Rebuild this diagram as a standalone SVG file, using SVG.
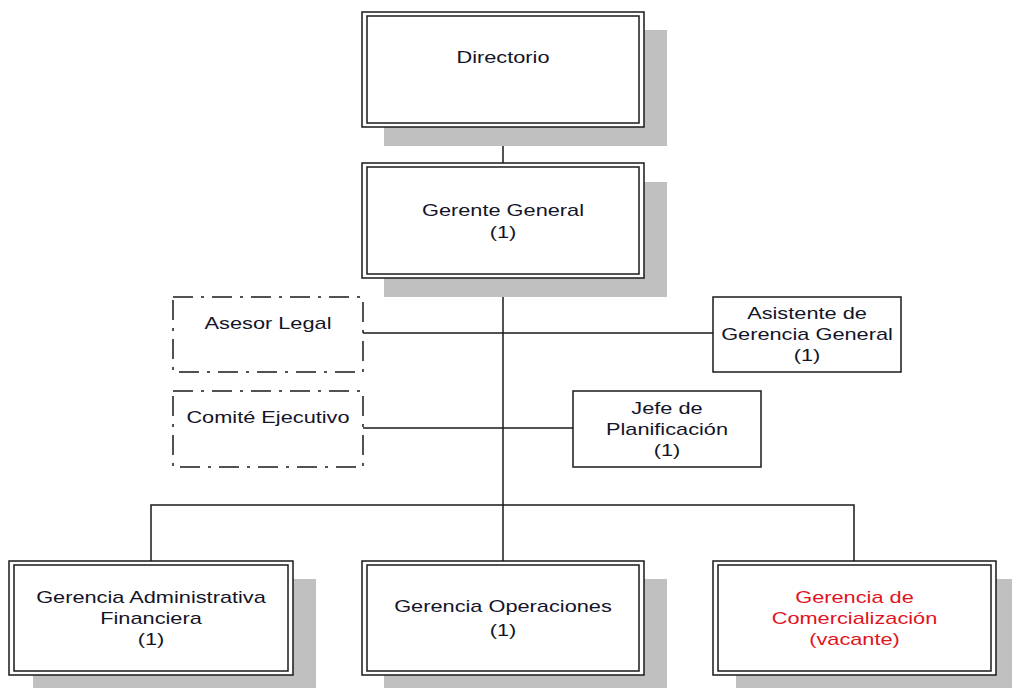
<svg xmlns="http://www.w3.org/2000/svg" width="1012" height="688" viewBox="0 0 1012 688">
  <style>
    .shadow { fill: #c0c0c0; stroke: none; }
    .frame { fill: #ffffff; stroke: #1a1a1a; stroke-width: 1.5; }
    .inner { fill: none; stroke: #1a1a1a; stroke-width: 1.5; }
    .dashed { fill: #ffffff; stroke: #1a1a1a; stroke-width: 1.5; stroke-dasharray: 20 8 3 8; }
    .wire { fill: none; stroke: #1a1a1a; stroke-width: 1.5; }
    text { font-family: "Liberation Sans", Arial, sans-serif; font-size: 17px; fill: #141428; text-anchor: middle; }
    text.vacant { fill: #e0141e; }
  </style>

  <rect width="1012" height="688" fill="#ffffff"/>

  <!-- connectors -->
  <g id="connectors">
    <line class="wire" x1="503" y1="127" x2="503" y2="163"/>
    <line class="wire" x1="503" y1="278" x2="503" y2="561"/>
    <line class="wire" x1="363" y1="333" x2="713" y2="333"/>
    <line class="wire" x1="363" y1="428" x2="573" y2="428"/>
    <polyline class="wire" points="151,561 151,505 854,505 854,561"/>
  </g>

  <!-- Directorio -->
  <g id="directorio">
    <rect class="shadow" x="384" y="30" width="283" height="116"/>
    <rect class="frame" x="362" y="12" width="282" height="115"/>
    <rect class="inner" x="367" y="16" width="272" height="107"/>
    <g transform="translate(503,0) scale(1.28,1)">
      <text x="0" y="63">Directorio</text>
    </g>
  </g>

  <!-- Gerente General -->
  <g id="gerente-general">
    <rect class="shadow" x="384" y="182" width="283" height="115"/>
    <rect class="frame" x="362" y="163" width="282" height="115"/>
    <rect class="inner" x="367" y="167" width="272" height="107"/>
    <g transform="translate(503,0) scale(1.28,1)">
      <text x="0" y="216">Gerente General</text>
      <text x="0" y="238">(1)</text>
    </g>
  </g>

  <!-- Asesor Legal -->
  <g id="asesor-legal">
    <rect class="dashed" x="173" y="297" width="190" height="75"/>
    <g transform="translate(268,0) scale(1.28,1)">
      <text x="0" y="329">Asesor Legal</text>
    </g>
  </g>

  <!-- Comité Ejecutivo -->
  <g id="comite-ejecutivo">
    <rect class="dashed" x="173" y="391" width="190" height="76"/>
    <g transform="translate(268,0) scale(1.28,1)">
      <text x="0" y="423">Comité Ejecutivo</text>
    </g>
  </g>

  <!-- Asistente de Gerencia General -->
  <g id="asistente-gerencia">
    <rect class="frame" x="713" y="297" width="188" height="75"/>
    <g transform="translate(807,0) scale(1.28,1)">
      <text x="0" y="319">Asistente de</text>
      <text x="0" y="340">Gerencia General</text>
      <text x="0" y="361">(1)</text>
    </g>
  </g>

  <!-- Jefe de Planificación -->
  <g id="jefe-planificacion">
    <rect class="frame" x="573" y="391" width="188" height="76"/>
    <g transform="translate(667,0) scale(1.28,1)">
      <text x="0" y="414">Jefe de</text>
      <text x="0" y="435">Planificación</text>
      <text x="0" y="456">(1)</text>
    </g>
  </g>

  <!-- Gerencia Administrativa Financiera -->
  <g id="gerencia-administrativa">
    <rect class="shadow" x="33" y="579" width="283" height="115"/>
    <rect class="frame" x="9" y="561" width="284" height="114"/>
    <rect class="inner" x="14" y="565" width="274" height="106"/>
    <g transform="translate(151,0) scale(1.28,1)">
      <text x="0" y="603">Gerencia Administrativa</text>
      <text x="0" y="624">Financiera</text>
      <text x="0" y="645">(1)</text>
    </g>
  </g>

  <!-- Gerencia Operaciones -->
  <g id="gerencia-operaciones">
    <rect class="shadow" x="384" y="579" width="283" height="115"/>
    <rect class="frame" x="362" y="561" width="282" height="114"/>
    <rect class="inner" x="367" y="565" width="272" height="106"/>
    <g transform="translate(503,0) scale(1.28,1)">
      <text x="0" y="612">Gerencia Operaciones</text>
      <text x="0" y="636">(1)</text>
    </g>
  </g>

  <!-- Gerencia de Comercialización -->
  <g id="gerencia-comercializacion">
    <rect class="shadow" x="736" y="579" width="283" height="115"/>
    <rect class="frame" x="713" y="561" width="283" height="114"/>
    <rect class="inner" x="718" y="565" width="273" height="106"/>
    <g transform="translate(854.5,0) scale(1.28,1)">
      <text class="vacant" x="0" y="603">Gerencia de</text>
      <text class="vacant" x="0" y="624">Comercialización</text>
      <text class="vacant" x="0" y="645">(vacante)</text>
    </g>
  </g>
</svg>
